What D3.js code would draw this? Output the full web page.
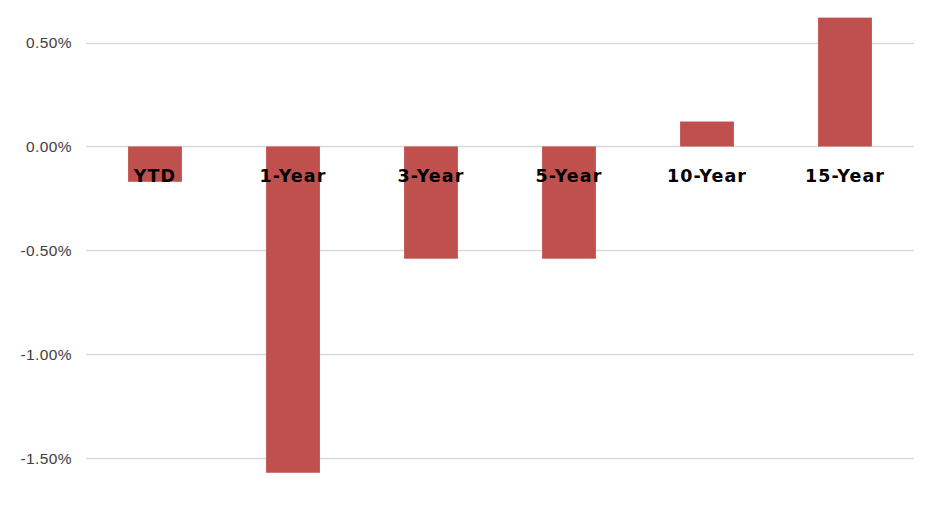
<!DOCTYPE html>
<html>
<head>
<meta charset="utf-8">
<script src="https://cdn.jsdelivr.net/npm/d3@7"></script>
<style>
  html, body { margin: 0; padding: 0; background: #fff; }
  svg { display: block; }
</style>
</head>
<body>
<svg id="chart" width="931" height="506"></svg>
<script>
const categories = ["YTD", "1-Year", "3-Year", "5-Year", "10-Year", "15-Year"];
const values = [-0.17, -1.57, -0.54, -0.54, 0.12, 0.62];
const tickValues = [0.5, 0, -0.5, -1.0, -1.5];
const tickLabels = ["0.50%", "0.00%", "-0.50%", "-1.00%", "-1.50%"];

(function () {
const svg = d3.select("#chart");
const plotLeft = 86, plotRight = 914, plotTop = 1, plotBottom = 479;

const x = d3.scaleBand().domain(categories).range([plotLeft, plotRight]).paddingInner(0.61).paddingOuter(0.305);
const y = d3.scaleLinear().domain([-1.6, 0.7]).range([plotBottom, plotTop]);

// gridlines
svg.append("g").selectAll("line").data(tickValues).join("line")
  .attr("x1", plotLeft).attr("x2", plotRight)
  .attr("y1", d => Math.round(y(d)) + 0.5).attr("y2", d => Math.round(y(d)) + 0.5)
  .attr("stroke", "#d9d9d9").attr("stroke-width", 1.3);

// y axis labels
const yAxis = d3.axisLeft(y).tickValues(tickValues)
  .tickFormat((d, i) => tickLabels[i]).tickSize(0).tickPadding(14);
const yg = svg.append("g").attr("transform", `translate(${plotLeft},0)`).call(yAxis);
yg.select(".domain").remove();
yg.selectAll("text")
  .attr("font-family", "'Liberation Sans', Arial, sans-serif")
  .attr("font-size", 15.5).attr("fill", "#404040")
  .attr("letter-spacing", "0.4px");

// bars
svg.append("g").selectAll("rect").data(values).join("rect")
  .attr("x", (d, i) => x(categories[i]))
  .attr("width", x.bandwidth())
  .attr("y", d => y(Math.max(0, d)))
  .attr("height", d => Math.abs(y(d) - y(0)))
  .attr("fill", "#c0504d");

// category labels
const xAxis = d3.axisBottom(x).tickSize(0).tickPadding(0);
const xg = svg.append("g").attr("transform", `translate(0,${y(0)})`).call(xAxis);
xg.select(".domain").remove();
xg.selectAll("text")
  .attr("dy", "2.05em")
  .attr("font-family", "'DejaVu Sans', sans-serif")
  .attr("font-weight", "bold")
  .attr("font-size", 17.5).attr("fill", "#000")
  .attr("letter-spacing", "1.1px");
})();
</script>
</body>
</html>
